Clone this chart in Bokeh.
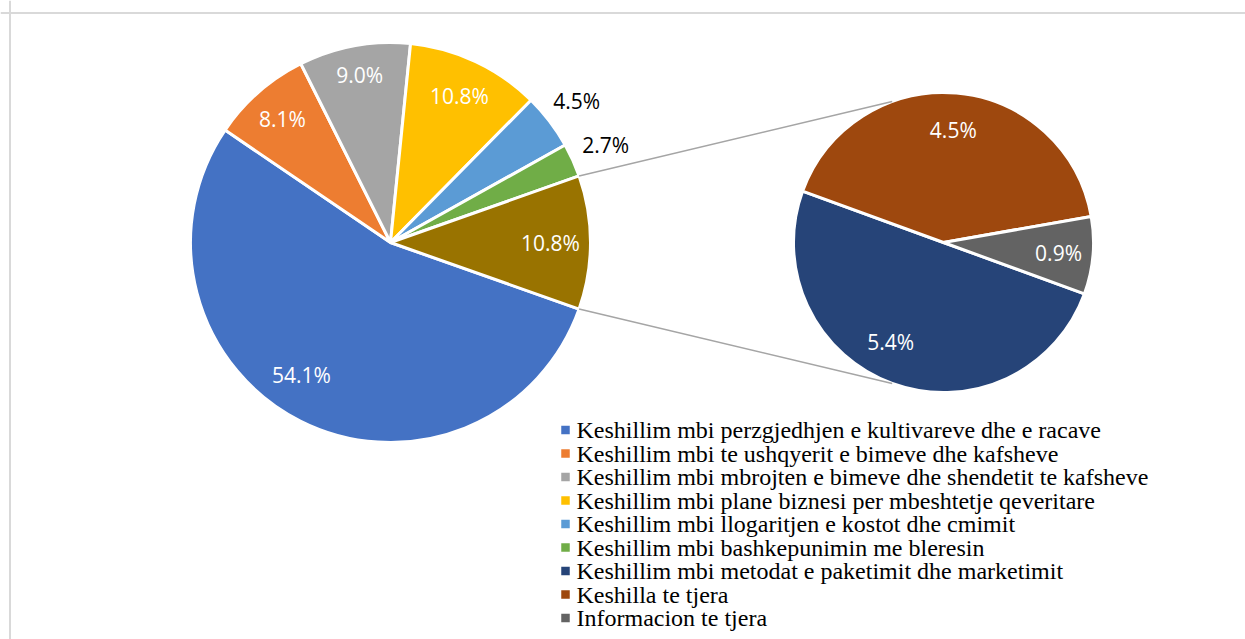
import math
from bokeh.plotting import figure
from bokeh.models import Range1d, Span, ColumnDataSource
from bokeh.core.properties import value
from bokeh.embed import file_html
from bokeh.resources import INLINE

# ---------------- data ----------------
categories = [
    "Keshillim mbi perzgjedhjen e kultivareve dhe e racave",
    "Keshillim mbi  te ushqyerit e bimeve dhe kafsheve",
    "Keshillim mbi mbrojten e bimeve dhe shendetit te kafsheve",
    "Keshillim mbi plane biznesi per mbeshtetje qeveritare",
    "Keshillim mbi llogaritjen e kostot dhe cmimit",
    "Keshillim mbi bashkepunimin me bleresin",
    "Keshillim mbi metodat e paketimit dhe marketimit",
    "Keshilla te tjera",
    "Informacion te tjera",
]
main_values = [54.1, 8.1, 9.0, 10.8, 4.5, 2.7]
sec_values = [5.4, 4.5, 0.9]

colors = ["#4472C4", "#ED7D31", "#A5A5A5", "#FFC000", "#5B9BD5", "#70AD47",
          "#264478", "#9E480E", "#636363"]
other_color = "#997300"

# ---------------- layout (screen px, y measured downwards) ----------------
W, H = 1245, 639
def sy(y):  # screen y -> data y
    return 639 - y

main_c = (390, sy(242)); main_r = 200
sec_c = (943, sy(242)); sec_r = 150

p = figure(width=W, height=H, x_range=Range1d(0, W), y_range=Range1d(639 - H, 639),
           output_backend="svg", toolbar_location=None, min_border=0)
p.axis.visible = False
p.grid.visible = False
p.outline_line_color = None
p.background_fill_color = "white"

# chart border (top + left visible)
p.add_layout(Span(location=sy(12.5), dimension="width", line_color="#D9D9D9", line_width=2))
p.add_layout(Span(location=9.5, dimension="height", line_color="#D9D9D9", line_width=2))

# ---------------- main pie ----------------
other_total = sum(sec_values)
vals = main_values + [other_total]
cols = colors[:6] + [other_color]
a = -other_total * 3.6 / 2
starts, ends, mids = [], [], []
for v in vals:
    b = a - v * 3.6
    starts.append(math.radians(b)); ends.append(math.radians(a)); mids.append((a + b) / 2)
    a = b
p.wedge(x=main_c[0], y=main_c[1], radius=main_r, start_angle=starts, end_angle=ends,
        fill_color=cols, line_color="white", line_width=3)

lab_r = [0.80, 0.82, 0.85, 0.81, 1.17, 1.18, 0.80]
lab_nudge = [-7, 0, 0, 0, 0, 0, 0]
lab_col = ["white", "white", "white", "white", "black", "black", "white"]
lx, ly, lt = [], [], []
for v, m, r, n in zip(vals, mids, lab_r, lab_nudge):
    ang = math.radians(m + n)
    lx.append(main_c[0] + r * main_r * math.cos(ang))
    ly.append(main_c[1] + r * main_r * math.sin(ang))
    lt.append(f"{v:.1f}%")
p.text(x=lx, y=ly, text=lt, text_color=lab_col, text_font=value("Open Sans"),
       text_font_size="21px", text_align="center", text_baseline="middle")

# ---------------- secondary pie ----------------
a = -20.0
s_starts, s_ends, s_mids = [], [], []
for v in sec_values:
    b = a - v / other_total * 360
    s_starts.append(math.radians(b)); s_ends.append(math.radians(a)); s_mids.append((a + b) / 2)
    a = b
p.wedge(x=sec_c[0], y=sec_c[1], radius=sec_r, start_angle=s_starts, end_angle=s_ends,
        fill_color=colors[6:], line_color="white", line_width=3)
s_nudge = [-8, 0, 0]
s_r = [0.75, 0.75, 0.77]
sx_, sy_, st = [], [], []
for v, m, n, r in zip(sec_values, s_mids, s_nudge, s_r):
    ang = math.radians(m + n)
    sx_.append(sec_c[0] + r * sec_r * math.cos(ang))
    sy_.append(sec_c[1] + r * sec_r * math.sin(ang))
    st.append(f"{v:.1f}%")
p.text(x=sx_, y=sy_, text=st, text_color="white", text_font=value("Open Sans"),
       text_font_size="21px", text_align="center", text_baseline="middle")

# ---------------- connector lines ----------------
half = math.radians(other_total * 3.6 / 2)
conn = math.radians(110)
x0 = [main_c[0] + main_r * math.cos(half), main_c[0] + main_r * math.cos(-half)]
y0 = [main_c[1] + main_r * math.sin(half), main_c[1] + main_r * math.sin(-half)]
x1 = [sec_c[0] + sec_r * math.cos(conn), sec_c[0] + sec_r * math.cos(-conn)]
y1 = [sec_c[1] + sec_r * math.sin(conn), sec_c[1] + sec_r * math.sin(-conn)]
p.segment(x0=x0, y0=y0, x1=x1, y1=y1, line_color="#A5A5A5", line_width=1.5)

# ---------------- legend ----------------
leg_x, leg_y0, leg_dy = 565, 429.5, 23.5
leg_src = ColumnDataSource(dict(
    x=[leg_x] * len(categories),
    y=[sy(leg_y0 + i * leg_dy) for i in range(len(categories))],
    tx=[leg_x + 11] * len(categories),
    text=categories, color=colors))
p.scatter(x="x", y="y", marker="square", size=8.5, fill_color="color", line_color=None, source=leg_src)
p.text(x="tx", y="y", text="text", source=leg_src, text_font=value("Liberation Serif"),
       text_font_size="24px", text_color="black", text_baseline="middle", text_align="left")

open("out.html", "w").write(file_html(p, INLINE))
